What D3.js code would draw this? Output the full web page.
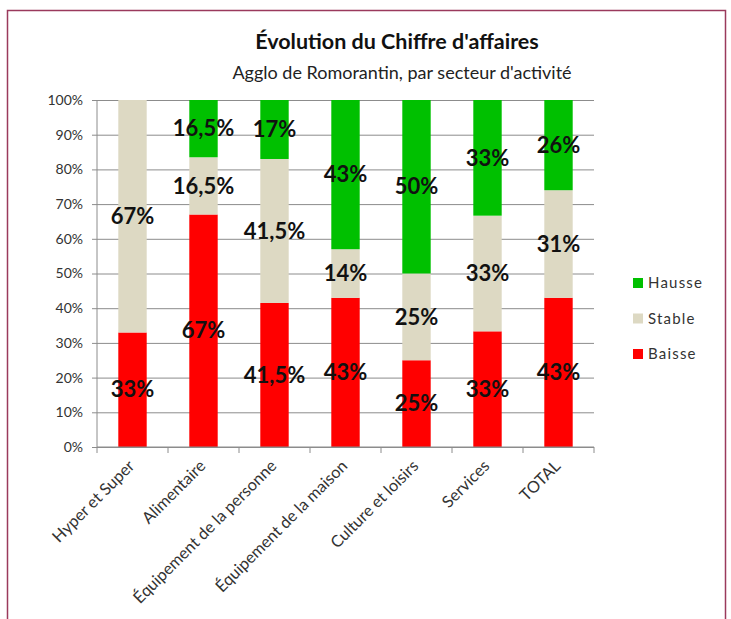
<!DOCTYPE html>
<html>
<head>
<meta charset="utf-8">
<script src="https://cdn.jsdelivr.net/npm/d3@7"></script>
<style>
  body { margin: 0; background: #fff; }
  text { font-family: Lato, 'Open Sans', sans-serif; }
  .tick text { fill: #333; font-size: 14px; }
  .seg-label { font-size: 22px; font-weight: bold; fill: #111; }
</style>
</head>
<body>
<svg width="731" height="619"></svg>
<script>
const categories = ['Hyper et Super', 'Alimentaire', 'Équipement de la personne',
  'Équipement de la maison', 'Culture et loisirs', 'Services', 'TOTAL']
const baisse = [33, 67, 41.5, 43, 25, 33, 43]
const stable = [67, 16.5, 41.5, 14, 25, 33, 31]
const hausse = [0, 16.5, 17, 43, 50, 33, 26]
const yTicks = [0, 0.1, 0.2, 0.3, 0.4, 0.5, 0.6, 0.7, 0.8, 0.9, 1]

const seriesKeys = ['Baisse', 'Stable', 'Hausse']
const colors = { Baisse: '#ff0000', Stable: '#ddd9c3', Hausse: '#00c000' }

const svg = d3.select('svg')
const width = +svg.attr('width')
const height = +svg.attr('height')
const margin = { top: 100, right: 137, bottom: 172, left: 97 }
const innerWidth = width - margin.left - margin.right
const innerHeight = height - margin.top - margin.bottom

// frame
svg.append('rect')
  .attr('x', 7.5).attr('y', 10.5)
  .attr('width', 718).attr('height', 640)
  .attr('fill', 'none')
  .attr('stroke', '#9a3a5c')
  .attr('stroke-width', 1.5)

svg.append('text')
  .attr('x', 397).attr('y', 49)
  .attr('text-anchor', 'middle')
  .style('font-size', '21.5px')
  .style('font-weight', 'bold')
  .attr('fill', '#111')
  .text("Évolution du Chiffre d'affaires")

svg.append('text')
  .attr('x', 402).attr('y', 79)
  .attr('text-anchor', 'middle')
  .style('font-size', '18px')
  .attr('fill', '#222')
  .text("Agglo de Romorantin, par secteur d'activité")

const data = categories.map((c, i) => {
  const total = baisse[i] + stable[i] + hausse[i]
  return {
    category: c,
    Baisse: baisse[i], Stable: stable[i], Hausse: hausse[i],
    total
  }
})

// 100% stacking, like Excel normalizes
const stack = d3.stack()
  .keys(seriesKeys)
  .value((d, key) => d[key] / d.total)
const series = stack(data)

const xScale = d3.scaleBand()
  .domain(categories)
  .range([0, innerWidth])
  .paddingInner(0.6)
  .paddingOuter(0.3)

const yScale = d3.scaleLinear()
  .domain([0, 1])
  .range([innerHeight, 0])

const g = svg.append('g')
  .attr('transform', `translate(${margin.left},${margin.top})`)

const yAxis = d3.axisLeft(yScale)
  .tickValues(yTicks)
  .tickFormat(d3.format('.0%'))
  .tickSize(-innerWidth)
  .tickPadding(10)

const yAxisGroup = g.append('g').call(yAxis)
yAxisGroup.select('.domain').remove()
yAxisGroup.selectAll('.tick line')
  .attr('stroke', '#8c8c8c')
  .attr('x1', -5)
yAxisGroup.selectAll('.tick text').attr('x', -14)

g.append('line')
  .attr('x1', 0).attr('x2', 0)
  .attr('y1', 0).attr('y2', innerHeight)
  .attr('stroke', '#8c8c8c')

// bars
const layer = g.selectAll('.layer')
  .data(series)
  .enter().append('g')
  .attr('fill', d => colors[d.key])

layer.selectAll('rect')
  .data(d => d)
  .enter().append('rect')
  .attr('x', d => xScale(d.data.category))
  .attr('y', d => yScale(d[1]))
  .attr('width', xScale.bandwidth())
  .attr('height', d => yScale(d[0]) - yScale(d[1]))

// x axis with ticks between categories
const xAxisGroup = g.append('g')
  .attr('transform', `translate(0,${innerHeight})`)

xAxisGroup.append('line')
  .attr('x1', 0).attr('x2', innerWidth)
  .attr('stroke', '#8c8c8c')

d3.range(categories.length + 1).forEach(i => {
  xAxisGroup.append('line')
    .attr('x1', i * innerWidth / categories.length)
    .attr('x2', i * innerWidth / categories.length)
    .attr('y1', 0).attr('y2', 6)
    .attr('stroke', '#8c8c8c')
})

xAxisGroup.selectAll('.xlabel')
  .data(categories)
  .enter().append('text')
  .attr('class', 'xlabel')
  .attr('transform', d => `translate(${xScale(d) + xScale.bandwidth() / 2 + 3},${20}) rotate(-45)`)
  .attr('text-anchor', 'end')
  .style('font-size', '16.3px')
  .attr('fill', '#333')
  .text(d => d)

// segment labels
const fmt = v => String(v).replace('.', ',') + '%'
layer.each(function (s) {
  d3.select(this).selectAll('text')
    .data(s.filter(d => d.data[s.key] > 0))
    .enter().append('text')
    .attr('class', 'seg-label')
    .attr('x', d => xScale(d.data.category) + xScale.bandwidth() / 2)
    .attr('y', d => yScale((d[0] + d[1]) / 2))
    .attr('dy', '0.35em')
    .attr('text-anchor', 'middle')
    .text(d => fmt(d.data[s.key]))
})

// legend
const legend = svg.append('g')
  .attr('transform', 'translate(633,283)')
const legendKeys = ['Hausse', 'Stable', 'Baisse']
legendKeys.forEach((k, i) => {
  const row = legend.append('g').attr('transform', `translate(0,${i * 35.5})`)
  row.append('rect')
    .attr('x', 0).attr('y', -5)
    .attr('width', 10).attr('height', 10)
    .attr('fill', colors[k])
  row.append('text')
    .attr('x', 15).attr('y', 0)
    .attr('dy', '0.35em')
    .style('font-size', '15px')
    .style('letter-spacing', '1.2px')
    .attr('fill', '#333')
    .text(k)
})
</script>
</body>
</html>
